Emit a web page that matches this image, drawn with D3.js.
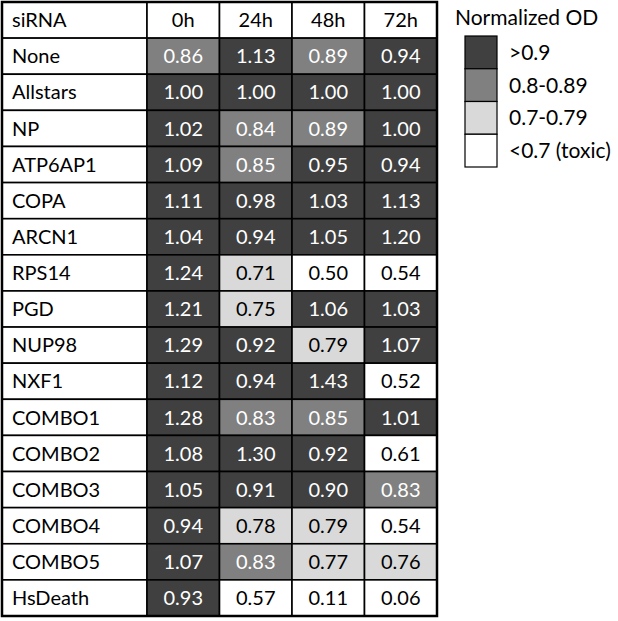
<!DOCTYPE html>
<head>
<meta charset="utf-8">
<style>
    body { margin: 0; background: #fff; }
    text { font-family: Lato, "Open Sans", sans-serif; }
</style>
</head>
<body>
    <script src="https://d3js.org/d3.v7.min.js"></script>
    <script>

    ///////////////////////////
    ////////// DATA //////////
    ///////////////////////////

    const timepoints = ['0h', '24h', '48h', '72h'];
    const sirnas = ['None', 'Allstars', 'NP', 'ATP6AP1', 'COPA', 'ARCN1', 'RPS14', 'PGD',
        'NUP98', 'NXF1', 'COMBO1', 'COMBO2', 'COMBO3', 'COMBO4', 'COMBO5', 'HsDeath'];
    const od0h  = [0.86, 1.00, 1.02, 1.09, 1.11, 1.04, 1.24, 1.21, 1.29, 1.12, 1.28, 1.08, 1.05, 0.94, 1.07, 0.93];
    const od24h = [1.13, 1.00, 0.84, 0.85, 0.98, 0.94, 0.71, 0.75, 0.92, 0.94, 0.83, 1.30, 0.91, 0.78, 0.83, 0.57];
    const od48h = [0.89, 1.00, 0.89, 0.95, 1.03, 1.05, 0.50, 1.06, 0.79, 1.43, 0.85, 0.92, 0.90, 0.79, 0.77, 0.11];
    const od72h = [0.94, 1.00, 1.00, 0.94, 1.13, 1.20, 0.54, 1.03, 1.07, 0.52, 1.01, 0.61, 0.83, 0.54, 0.76, 0.06];
    const legendLabels = ['>0.9', '0.8-0.89', '0.7-0.79', '<0.7 (toxic)'];
    const legendColors = ['#404040', '#808080', '#d9d9d9', '#ffffff'];

    ///////////////////////////
    ////////// SETUP //////////
    ///////////////////////////

    const width = 618, height = 621;
    const svg = d3.select('body').append('svg')
        .attr('width', width)
        .attr('height', height);

    const series = [od0h, od24h, od48h, od72h];
    const cells = [];
    sirnas.forEach((s, i) => {
        timepoints.forEach((t, j) => {
            cells.push({ sirna: s, time: t, value: series[j][i] });
        });
    });

    const rows = ['siRNA'].concat(sirnas);
    const y = d3.scaleBand().domain(rows).range([2, 616]);

    const labelX = [2, 147];
    const x = d3.scaleBand().domain(timepoints).range([147, 437]);

    const color = d3.scaleThreshold()
        .domain([0.7, 0.8, 0.895])
        .range(legendColors.slice().reverse());
    const textColor = v => v >= 0.795 ? '#fff' : '#000';

    //////////////////////////
    ////////// DRAW //////////
    //////////////////////////

    const table = svg.append('g');

    // label column
    table.selectAll('rect.label')
        .data(rows)
        .join('rect')
        .attr('class', 'label')
        .attr('x', labelX[0])
        .attr('y', d => y(d))
        .attr('width', labelX[1] - labelX[0])
        .attr('height', y.bandwidth())
        .attr('fill', '#fff')
        .attr('stroke', '#000')
        .attr('stroke-width', 1.6);

    table.selectAll('text.label')
        .data(rows)
        .join('text')
        .attr('class', 'label')
        .attr('x', 12)
        .attr('y', d => y(d) + y.bandwidth() / 2)
        .attr('dy', '0.36em')
        .attr('font-size', 20)
        .text(d => d);

    // header cells
    table.selectAll('rect.head')
        .data(timepoints)
        .join('rect')
        .attr('class', 'head')
        .attr('x', d => x(d))
        .attr('y', y('siRNA'))
        .attr('width', x.bandwidth())
        .attr('height', y.bandwidth())
        .attr('fill', '#fff')
        .attr('stroke', '#000')
        .attr('stroke-width', 1.6);

    table.selectAll('text.head')
        .data(timepoints)
        .join('text')
        .attr('class', 'head')
        .attr('x', d => x(d) + x.bandwidth() / 2)
        .attr('y', y('siRNA') + y.bandwidth() / 2)
        .attr('dy', '0.36em')
        .attr('text-anchor', 'middle')
        .attr('font-size', 20)
        .text(d => d);

    // value cells
    table.selectAll('rect.cell')
        .data(cells)
        .join('rect')
        .attr('class', 'cell')
        .attr('x', d => x(d.time))
        .attr('y', d => y(d.sirna))
        .attr('width', x.bandwidth())
        .attr('height', y.bandwidth())
        .attr('fill', d => color(d.value))
        .attr('stroke', '#000')
        .attr('stroke-width', 1.6);

    table.selectAll('text.cell')
        .data(cells)
        .join('text')
        .attr('class', 'cell')
        .attr('x', d => x(d.time) + x.bandwidth() / 2)
        .attr('y', d => y(d.sirna) + y.bandwidth() / 2)
        .attr('dy', '0.36em')
        .attr('text-anchor', 'middle')
        .attr('font-size', 20)
        .attr('fill', d => textColor(d.value))
        .text(d => d.value.toFixed(2));

    // outer border
    table.append('rect')
        .attr('x', 2)
        .attr('y', 2)
        .attr('width', 435)
        .attr('height', 614)
        .attr('fill', 'none')
        .attr('stroke', '#000')
        .attr('stroke-width', 2.5);

    ////////////////////////////
    ////////// LEGEND //////////
    ////////////////////////////

    const legend = svg.append('g');
    legend.append('text')
        .attr('x', 455)
        .attr('y', 25)
        .attr('font-size', 21)
        .text('Normalized OD');

    const ly = d3.scaleBand().domain(legendLabels).range([36, 167]);

    legend.selectAll('rect')
        .data(legendLabels)
        .join('rect')
        .attr('x', 465)
        .attr('y', d => ly(d))
        .attr('width', 32)
        .attr('height', ly.bandwidth())
        .attr('fill', (d, i) => legendColors[i])
        .attr('stroke', '#000')
        .attr('stroke-width', 1.2);

    legend.selectAll('text.item')
        .data(legendLabels)
        .join('text')
        .attr('class', 'item')
        .attr('x', 509)
        .attr('y', d => ly(d) + ly.bandwidth() / 2)
        .attr('dy', '0.36em')
        .attr('font-size', 21)
        .text(d => d);

    </script>
</body>
